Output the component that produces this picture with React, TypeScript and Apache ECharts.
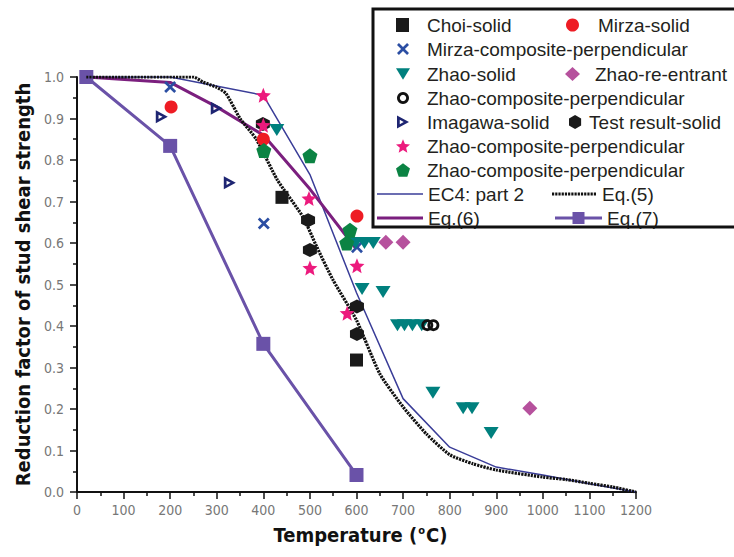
import React, { useEffect, useRef } from "react";
import * as echarts from "echarts";

// ---- axis ranges ----
const xMin = 0;
const xMax = 1200;
const xStep = 100;
const yMin = 0;
const yMax = 1;
const yStep = 0.1;

// ---- scatter data [temperature, reduction factor] ----
const choiSolid = [[440, 0.71], [600, 0.318]];
const mirzaSolid = [[202, 0.928], [400, 0.85], [601, 0.665]];
const mirzaComposite = [[200, 0.976], [401, 0.647], [601, 0.59]];
const zhaoSolid = [
  [429, 0.872], [598, 0.6], [617, 0.6], [636, 0.6], [612, 0.489], [657, 0.482],
  [688, 0.402], [703, 0.402], [720, 0.402], [740, 0.402], [764, 0.239],
  [829, 0.202], [848, 0.202], [889, 0.142],
];
const zhaoReEntrant = [[663, 0.602], [700, 0.602], [972, 0.202]];
const zhaoCompCircle = [[752, 0.402], [765, 0.402]];
const imagawaSolid = [[182, 0.904], [300, 0.925], [328, 0.745]];
const testResultSolid = [[399, 0.887], [496, 0.655], [500, 0.583], [601, 0.447], [601, 0.381]];
const zhaoCompStar = [[400, 0.956], [400, 0.884], [498, 0.707], [500, 0.54], [601, 0.545], [580, 0.431]];
const zhaoCompPentagon = [[401, 0.823], [500, 0.81], [586, 0.631], [579, 0.6]];

// ---- line data ----
const ec4Part2 = [
  [20, 1], [200, 1], [400, 0.956], [500, 0.765], [600, 0.48], [700, 0.225],
  [800, 0.108], [900, 0.06], [1000, 0.041], [1100, 0.02], [1200, 0],
];
const eq5 = [
  [20, 1], [250, 1], [270, 0.988], [300, 0.975], [320, 0.96], [350, 0.9],
  [385, 0.85], [430, 0.752], [485, 0.663], [515, 0.59], [550, 0.51],
  [600, 0.414], [650, 0.285], [700, 0.205], [750, 0.14], [800, 0.09],
  [850, 0.068], [900, 0.053], [1000, 0.036], [1050, 0.03], [1100, 0.021],
  [1150, 0.012], [1200, 0],
];
const eq6 = [[20, 1], [200, 0.987], [300, 0.928], [400, 0.86], [500, 0.73], [600, 0.585]];
const eq7 = [[20, 1], [200, 0.834], [400, 0.357], [600, 0.041]];

// ---- names ----
const displayName: Record<string, string> = {
  "Zhao-composite-perpendicular-o": "Zhao-composite-perpendicular",
  "Zhao-composite-perpendicular-star": "Zhao-composite-perpendicular",
  "Zhao-composite-perpendicular-pent": "Zhao-composite-perpendicular",
};

const STAR =
  "path://M10,0 L12.65,6.36 L19.51,6.91 L14.28,11.39 L15.88,18.09 L10,14.5 L4.12,18.09 L5.72,11.39 L0.49,6.91 L7.35,6.36 Z";
const PENT = "path://M10,0 L19.51,6.91 L15.88,18.09 L4.12,18.09 L0.49,6.91 Z";
const HEX = "path://M5,0 L9.33,2.5 L9.33,7.5 L5,10 L0.67,7.5 L0.67,2.5 Z";
const CROSS = "path://M1.6,0 L5,3.4 L8.4,0 L10,1.6 L6.6,5 L10,8.4 L8.4,10 L5,6.6 L1.6,10 L0,8.4 L3.4,5 L0,1.6 Z";
const DOWNTRI = "path://M0,0 L10,0 L5,8.2 Z";
const RIGHTTRI_HOLLOW = "path://M0,0 L10,5.5 L0,11 Z M2.3,3.7 L2.3,7.3 L5.6,5.5 Z";
const RING = "path://M6,0 A6,6 0 1,1 5.99,0 Z M6,2.8 A3.2,3.2 0 1,0 6.01,2.8 Z";

function barPath(x0: number, x1: number, y0: number, y1: number) {
  return `M${x0},${y0} L${x1},${y0} L${x1},${y1} L${x0},${y1} Z`;
}
function dashPath(len: number, dash: number, gap: number, y0: number, y1: number) {
  let d = "";
  for (let x = 0; x < len; x += dash + gap) d += barPath(x, Math.min(len, x + dash), y0, y1) + " ";
  return "path://" + d;
}

const LEG_FONT = { fontSize: 19, fontFamily: "'Liberation Sans', Arial, sans-serif", color: "#231f20" };

function leg(name: string, icon: string, left: number, cy: number, itemWidth: number, textPad: number, itemHeight = 14) {
  return {
    data: [{ name, icon }],
    left,
    top: cy - 8.5,
    orient: "horizontal",
    padding: 0,
    itemWidth,
    itemHeight,
    symbolKeepAspect: true,
    selectedMode: false,
    textStyle: { ...LEG_FONT, padding: [0, 0, 0, textPad] },
    formatter: (n: string) => displayName[n] || n,
  };
}

export default function App() {
  const ref = useRef<HTMLDivElement>(null);
  useEffect(() => {
    if (!ref.current) return;
    const chart = echarts.init(ref.current, undefined, { renderer: "svg" });
    const condensed = "'DejaVu Sans Condensed', 'Liberation Sans Narrow', 'Liberation Sans', Arial";
    const labelFont = { color: "#777", fontSize: 14, fontFamily: condensed };
    const axisCommon = {
      axisLine: { show: true, lineStyle: { color: "#111", width: 2 } },
      axisTick: { show: true, length: 7, lineStyle: { color: "#111", width: 1.5 } },
      minorTick: { show: true, splitNumber: 2, length: 4, lineStyle: { color: "#111", width: 1.5 } },
      splitLine: { show: false },
    };
    const titleFont = {
      fontSize: 20,
      fontWeight: "bold",
      color: "#111",
      fontFamily: condensed,
    };
    const sc = (name: string, data: number[][], symbol: string, size: any, color: string, extra: any = {}) => ({
      type: "scatter",
      name,
      data,
      symbol,
      symbolSize: size,
      itemStyle: { color, opacity: 1 },
      z: 5,
      ...extra,
    });

    const option: any = {
      animation: false,
      backgroundColor: "#ffffff",
      grid: { left: 77, right: 98, top: 77, bottom: 65 },
      xAxis: {
        type: "value",
        min: xMin,
        max: xMax,
        interval: xStep,
        ...axisCommon,
        axisLabel: { ...labelFont, margin: 11, formatter: (v: number) => String(v) },
        name: "Temperature ({sup|o}C)",
        nameLocation: "middle",
        nameGap: 33,
        nameTextStyle: {
          ...titleFont,
          padding: [0, 0, 0, 8],
          rich: {
            sup: { fontSize: 11, fontWeight: "bold", color: "#111", verticalAlign: "top", fontFamily: condensed, padding: [0, 1, 0, 1] },
          },
        },
      },
      yAxis: {
        type: "value",
        min: yMin,
        max: yMax,
        interval: yStep,
        ...axisCommon,
        axisLabel: { ...labelFont, margin: 13, formatter: (v: number) => v.toFixed(1) },
        name: "Reduction factor of stud shear strength",
        nameLocation: "middle",
        nameGap: 32,
        nameTextStyle: { ...titleFont },
      },
      graphic: [
        {
          type: "rect",
          shape: { x: 373, y: 9, width: 420, height: 218 },
          style: { fill: "none", stroke: "#111", lineWidth: 3 },
          z: 50,
        },
      ],
      legend: [
        leg("Choi-solid", "rect", 396, 24, 13, 13),
        leg("Mirza-solid", "circle", 566, 24, 13, 14),
        leg("Mirza-composite-perpendicular", CROSS, 397, 48, 12, 13),
        leg("Zhao-solid", DOWNTRI, 396, 73, 14, 12),
        leg("Zhao-re-entrant", "diamond", 565, 73, 15, 10),
        leg("Zhao-composite-perpendicular-o", RING, 397, 97, 12, 13),
        leg("Imagawa-solid", RIGHTTRI_HOLLOW, 397, 121, 12, 13),
        leg("Test result-solid", HEX, 569, 121, 14, 2),
        leg("Zhao-composite-perpendicular-star", STAR, 396, 145, 14, 12),
        leg("Zhao-composite-perpendicular-pent", PENT, 396, 169, 14, 12),
        leg("EC4: part 2", "path://" + barPath(0, 46, 0, 1.5), 377, 193, 46, 0),
        leg("Eq.(5)", dashPath(44, 2.2, 1, 0, 3), 552, 193, 44, 1),
        leg("Eq.(6)", "path://" + barPath(0, 46, 0, 3), 377, 217, 46, 0),
        leg("Eq.(7)", "path://" + barPath(0, 47, 5, 8) + " " + barPath(17.5, 29.5, 0.5, 12.5), 555, 217, 47, 0),
      ],
      series: [
        {
          type: "line",
          name: "EC4: part 2",
          data: ec4Part2,
          symbol: "none",
          lineStyle: { color: "#3a3d98", width: 1.5 },
          itemStyle: { color: "#3a3d98" },
          z: 2,
        },
        {
          type: "line",
          name: "Eq.(5)",
          data: eq5,
          symbol: "none",
          smooth: 0.2,
          lineStyle: { color: "#111", width: 3.2, type: [2.2, 1] },
          itemStyle: { color: "#111" },
          z: 3,
        },
        {
          type: "line",
          name: "Eq.(6)",
          data: eq6,
          symbol: "none",
          lineStyle: { color: "#7b1f7e", width: 3 },
          itemStyle: { color: "#7b1f7e" },
          z: 2,
        },
        {
          type: "line",
          name: "Eq.(7)",
          data: eq7,
          symbol: "rect",
          symbolSize: 14,
          lineStyle: { color: "#6a52a8", width: 3 },
          itemStyle: { color: "#6a52a8" },
          z: 2,
        },
        sc("Choi-solid", choiSolid, "rect", 13, "#1a1a1a"),
        sc("Mirza-solid", mirzaSolid, "circle", 13, "#ee1c24"),
        sc("Mirza-composite-perpendicular", mirzaComposite, CROSS, 12, "#2b4ea3"),
        sc("Zhao-solid", zhaoSolid, DOWNTRI, [15, 12], "#00807e"),
        sc("Zhao-re-entrant", zhaoReEntrant, "diamond", 15, "#b6519d"),
        sc("Zhao-composite-perpendicular-o", zhaoCompCircle, RING, 12, "#111"),
        sc("Imagawa-solid", imagawaSolid, RIGHTTRI_HOLLOW, [12, 13], "#1e2572"),
        sc("Test result-solid", testResultSolid, HEX, 14, "#1a1a1a"),
        sc("Zhao-composite-perpendicular-star", zhaoCompStar, STAR, 15, "#ec1a7d"),
        sc("Zhao-composite-perpendicular-pent", zhaoCompPentagon, PENT, 15, "#0b8343"),
      ],
    };
    chart.setOption(option);
    return () => chart.dispose();
  }, []);
  return <div ref={ref} style={{ width: 734, height: 557, position: "absolute", left: 0, top: 0 }} />;
}
